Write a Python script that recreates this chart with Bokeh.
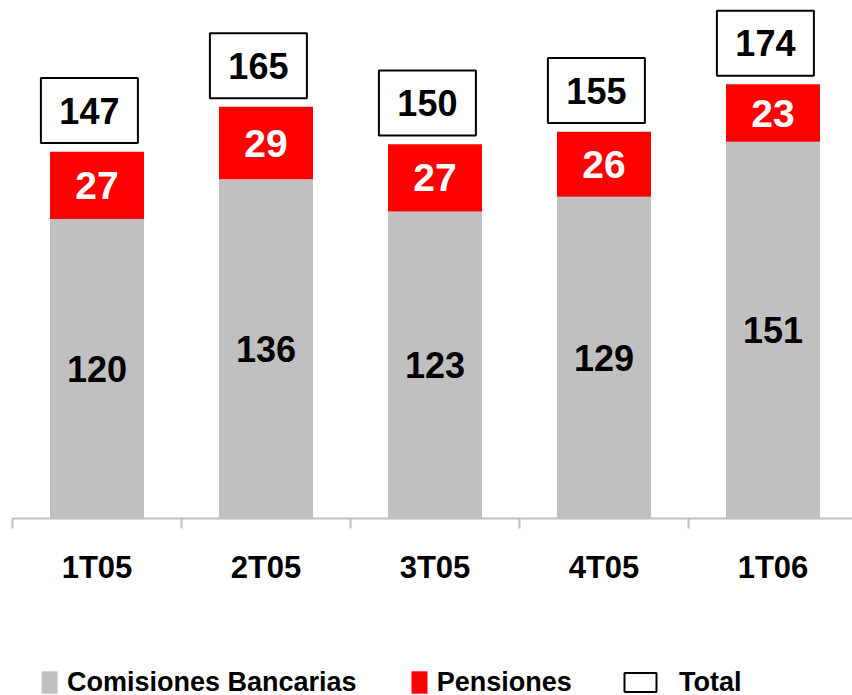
from bokeh.plotting import figure
from bokeh.layouts import column
from bokeh.models import (ColumnDataSource, Range1d, LinearAxis, FixedTicker,
                          CustomJSTickFormatter, Legend, LegendItem)
from bokeh.transform import dodge
from bokeh.embed import file_html
from bokeh.resources import INLINE
from bokeh.core.properties import value

# ---- data ----
categories = ["1T05", "2T05", "3T05", "4T05", "1T06"]
comisiones = [120, 136, 123, 129, 151]
pensiones = [27, 29, 27, 26, 23]
totales = [147, 165, 150, 155, 174]
series_names = ["Comisiones Bancarias", "Pensiones", "Total"]

# ---- style ----
FONT = "Liberation Sans"
GRAY = "#c0c0c0"
RED = "#ff0000"
BOX_LIFT = 16.5          # data units between bar top and total box centre
PX_PER_CAT = 169
FRAME_W = 840
FRAME_H = 510
PX_PER_UNIT = 2.495

n = len(categories)
xs = [i + 0.5 for i in range(n)]
data = dict(
    x=xs,
    gray=comisiones,
    total=totales,
    gray_mid=[c / 2 for c in comisiones],
    red_mid=[c + r / 2 for c, r in zip(comisiones, pensiones)],
    box_y=[t + BOX_LIFT for t in totales],
    gray_lbl=[str(v) for v in comisiones],
    red_lbl=[str(v) for v in pensiones],
    tot_lbl=[str(v) for v in totales],
)
src = ColumnDataSource(data)

p = figure(width=852, height=610, output_backend="svg", toolbar_location=None,
           x_range=Range1d(0, FRAME_W / PX_PER_CAT),
           y_range=Range1d(0, FRAME_H / PX_PER_UNIT),
           x_axis_location=None, y_axis_location=None,
           min_border_left=12, min_border_right=0, min_border_top=8,
           min_border_bottom=92)
p.outline_line_color = None
p.xgrid.visible = False
p.ygrid.visible = False

bw = 94 / PX_PER_CAT
p.vbar(x="x", bottom=0, top="gray", width=bw, source=src,
       fill_color=GRAY, line_color=None)
p.vbar(x="x", bottom="gray", top="total", width=bw, source=src,
       fill_color=RED, line_color=None)

bx = dodge("x", -0.045)
p.rect(x=bx, y="box_y", width=97, height=65, width_units="screen",
       height_units="screen", source=src, fill_color="white",
       line_color="black", line_width=2)

p.text(x="x", y="gray_mid", text="gray_lbl", source=src, text_align="center",
       text_baseline="middle", text_font=value(FONT), text_font_style="bold",
       text_font_size="36px", text_color="black")
p.text(x="x", y="red_mid", text="red_lbl", source=src, text_align="center",
       text_baseline="middle", text_font=value(FONT), text_font_style="bold",
       text_font_size="39px", text_color="white")
p.text(x=bx, y="box_y", text="tot_lbl", source=src, text_align="center",
       text_baseline="middle", text_font=value(FONT), text_font_style="bold",
       text_font_size="36px", text_color="black")

ax = LinearAxis(ticker=FixedTicker(ticks=xs, minor_ticks=list(range(n + 1))),
                formatter=CustomJSTickFormatter(args=dict(labels=categories),
                                                code="return labels[Math.floor(tick)]"))
ax.axis_line_color = GRAY
ax.axis_line_width = 2
ax.major_tick_line_color = None
ax.major_tick_out = 0
ax.major_tick_in = 0
ax.minor_tick_line_color = GRAY
ax.minor_tick_line_width = 2
ax.minor_tick_out = 10
ax.minor_tick_in = 0
ax.major_label_standoff = 21
ax.major_label_text_font = FONT
ax.major_label_text_font_style = "bold"
ax.major_label_text_font_size = "31px"
ax.major_label_text_color = "black"
p.add_layout(ax, "below")

# ---- legend strip (separate small figure under the chart) ----
pl = figure(width=852, height=85, output_backend="svg", toolbar_location=None,
            x_range=Range1d(0, 1), y_range=Range1d(0, 1),
            x_axis_location=None, y_axis_location=None,
            min_border=0, outline_line_color=None)
pl.xgrid.visible = False
pl.ygrid.visible = False
lsrc = ColumnDataSource(data)
# hidden proxies: only their legend swatches are shown
lg_gray = pl.vbar(x="x", top="gray", width=bw, source=lsrc,
                  fill_color=GRAY, line_color=None, visible=False)
lg_red = pl.vbar(x="x", bottom="gray", top="total", width=bw, source=lsrc,
                 fill_color=RED, line_color=None, visible=False)
lg_tot = pl.vbar(x="x", top="total", width=bw, source=lsrc,
                 fill_color="white", line_color="black", line_width=2,
                 visible=False)

leg_common = dict(orientation="horizontal", padding=0, margin=0,
                  border_line_color=None, background_fill_alpha=0,
                  inactive_fill_alpha=0,
                  label_text_font=FONT, label_text_font_style="bold",
                  label_text_font_size="27px", label_text_color="black",
                  label_height=32)
leg1 = Legend(items=[LegendItem(label=series_names[0], renderers=[lg_gray]),
                     LegendItem(label=series_names[1], renderers=[lg_red])],
              location=(27, -3), spacing=52, label_standoff=8,
              glyph_width=20, glyph_height=28, **leg_common)
leg2 = Legend(items=[LegendItem(label=series_names[2], renderers=[lg_tot])],
              location=(608, -3), spacing=0, label_standoff=19,
              glyph_width=40, glyph_height=24, **leg_common)
pl.add_layout(leg1, "center")
pl.add_layout(leg2, "center")

layout = column(p, pl, spacing=0)
open("out.html", "w").write(file_html(layout, INLINE))
